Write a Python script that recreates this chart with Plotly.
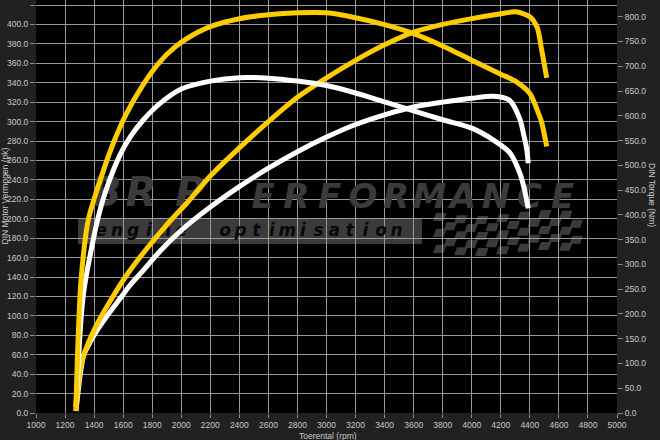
import math
import plotly.graph_objects as go

# ---------------- data ----------------
rpm_tuned = [1275, 1290, 1310, 1360, 1440, 1530, 1620, 1740, 1850, 1950, 2050, 2200, 2400, 2600,
             2800, 3000, 3200, 3400, 3600, 3800, 4000, 4200, 4300, 4400, 4450, 4480, 4516]
torque_tuned = [12, 150, 268, 390, 468, 543, 603, 664, 708, 737, 758, 780, 796, 804,
                808, 808, 798, 784, 766, 741, 712, 684, 670, 645, 612, 588, 538]
power_tuned = [2, 28, 50, 72, 97, 120, 141, 165, 185, 202, 218, 244, 273, 300,
               325, 345, 363, 379, 392, 400, 406, 411, 413, 408, 397, 375, 345]

rpm_stock = [1275, 1290, 1305, 1330, 1420, 1480, 1580, 1650, 1740, 1850, 2000, 2200, 2400, 2600,
             2800, 3000, 3200, 3400, 3600, 3800, 4000, 4150, 4260, 4330, 4360, 4378, 4389]
torque_stock = [12, 87, 170, 248, 385, 448, 522, 558, 592, 624, 654, 670, 677, 676,
                670, 661, 646, 628, 610, 592, 575, 551, 526, 485, 455, 430, 413]
power_stock = [2, 22, 40, 60, 85, 98, 118, 132, 147, 166, 188, 212, 233, 252,
               269, 284, 297, 307, 315, 320, 324, 326, 322, 303, 285, 272, 257]

x_ticks = list(range(1000, 5001, 200))
left_ticks = list(range(0, 421, 20))
right_ticks = list(range(0, 801, 50))

x_title = "Toerental (rpm)"
left_title = "DIN Motor Vermogen (pk)"
right_title = "DIN Torque (Nm)"
logo_big = "BRP"
logo_small = "ERFORMANCE"
logo_tag = ["engine", "optimisation"]

# ---------------- layout geometry ----------------
W, H = 660, 440
L, R, T, B = 36, 43, 0, 27
PW, PH = W - L - R, H - T - B
X0, X1 = 1000, 5000
YL_TOP = 420 * PH / (PH - 5)
YR_TOP = 800 * PH / (PH - 16.7)


def px2x(px):
    return X0 + (px - L) / PW * (X1 - X0)


def py2y(py):
    return (T + PH - py) / PH * YL_TOP


def xp(px):
    return (px - L) / PW


def yp(py):
    return (T + PH - py) / PH


YELLOW = "#FFCC00"
WHITE = "#FFFFFF"
LOGO = "#3b3b3b"
TICKC = "#c8c8c8"
GRID = "#9a9a9a"
FONT = "Liberation Sans, Arial, sans-serif"
FS = 8.5

fig = go.Figure()

# ---------------- watermark text (below the curves) ----------------
fig.add_trace(go.Scatter(
    x=[px2x(106), px2x(141), px2x(190)], y=[py2y(196)] * 3,
    text=list(logo_big), mode="text", hoverinfo="skip", showlegend=False,
    textfont=dict(family="DejaVu Sans", size=40, color=LOGO, weight="bold", style="italic"),
))
fig.add_trace(go.Scatter(
    x=[px2x(263 + 33.3 * i) for i in range(len(logo_small))],
    y=[py2y(199)] * len(logo_small),
    text=list(logo_small), mode="text", hoverinfo="skip", showlegend=False,
    textfont=dict(family="DejaVu Sans", size=34, color=LOGO, weight="bold", style="italic"),
))
tag_x, tag_t = [], []
for word, start, pitch in [(logo_tag[0], 101, 16.0), (logo_tag[1], 225, 15.6)]:
    for k, ch in enumerate(word):
        tag_x.append(px2x(start + pitch * k))
        tag_t.append(ch)
fig.add_trace(go.Scatter(
    x=tag_x, y=[py2y(232)] * len(tag_x), text=tag_t, mode="text",
    hoverinfo="skip", showlegend=False,
    textfont=dict(family="DejaVu Sans", size=17, color="#080808", weight="bold", style="italic"),
))

# ---------------- curves ----------------
common = dict(mode="lines", hoverinfo="skip", showlegend=False)
ln = dict(width=5, shape="spline", smoothing=0.8)
fig.add_trace(go.Scatter(x=rpm_stock, y=power_stock, yaxis="y",
                         line=dict(color=WHITE, **ln), **common))
fig.add_trace(go.Scatter(x=rpm_stock, y=torque_stock, yaxis="y2",
                         line=dict(color=WHITE, **ln), **common))
fig.add_trace(go.Scatter(x=rpm_tuned, y=power_tuned, yaxis="y",
                         line=dict(color=YELLOW, **ln), **common))
fig.add_trace(go.Scatter(x=rpm_tuned, y=torque_tuned, yaxis="y2",
                         line=dict(color=YELLOW, **ln), **common))

# ---------------- watermark shapes (band + checkered flag) ----------------
shapes = [dict(type="rect", xref="paper", yref="paper", x0=xp(78), x1=xp(422),
               y0=yp(244), y1=yp(219), fillcolor=LOGO, line=dict(width=0), layer="below")]
for i in range(14):
    for j in range(5):
        if (i + j) % 2:
            continue
        w = 10.5
        h = 8.0
        wave = 3.0 * math.sin(i * 0.45)
        x_l = 433 + i * w
        y_t = 213 + j * h + wave
        sk = 3.0
        path = (f"M {xp(x_l + sk)},{yp(y_t)} L {xp(x_l + w + sk)},{yp(y_t)} "
                f"L {xp(x_l + w)},{yp(y_t + h)} L {xp(x_l)},{yp(y_t + h)} Z")
        shapes.append(dict(type="path", xref="paper", yref="paper", path=path,
                           fillcolor=LOGO, line=dict(width=0), layer="below"))

axis_common = dict(
    ticks="outside", tickcolor="#8a8a8a", tickwidth=1,
    tickfont=dict(family=FONT, size=FS, color=TICKC),
    zeroline=False, fixedrange=True, automargin=False,
)

fig.update_layout(
    width=W, height=H,
    margin=dict(l=L, r=R, t=T, b=B, pad=0, autoexpand=False),
    paper_bgcolor="#212121", plot_bgcolor="#000000",
    font=dict(family=FONT, size=FS, color=TICKC),
    xaxis=dict(range=[X0, X1], tickvals=x_ticks, ticktext=[str(v) for v in x_ticks],
               showgrid=True, gridcolor=GRID, gridwidth=1, ticklen=4,
               showline=False, **axis_common),
    yaxis=dict(range=[0, YL_TOP], tickvals=left_ticks,
               ticktext=[f"{v:.1f}" for v in left_ticks], ticklen=5,
               showgrid=True, gridcolor=GRID, gridwidth=1, showline=False, **axis_common),
    yaxis2=dict(range=[0, YR_TOP], tickvals=right_ticks,
                ticktext=[f"{v:.1f}" for v in right_ticks], ticklen=5,
                overlaying="y", side="right", showgrid=False, showline=False, **axis_common),
    shapes=shapes,
    annotations=[
        dict(text=x_title, xref="paper", yref="paper", x=xp(328), y=yp(435.5),
             xanchor="center", yanchor="middle",
             showarrow=False, font=dict(family=FONT, size=FS, color=TICKC)),
        dict(text=left_title, xref="paper", yref="paper", x=xp(4.5), y=yp(196),
             xanchor="center", yanchor="middle",
             showarrow=False, textangle=-90, font=dict(family=FONT, size=FS, color=TICKC)),
        dict(text=right_title, xref="paper", yref="paper", x=xp(652), y=yp(195),
             xanchor="center", yanchor="middle",
             showarrow=False, textangle=90, font=dict(family=FONT, size=FS, color=TICKC)),
    ],
)

fig.write_html(
    "out.html",
    config={"displayModeBar": False},
    post_script="document.body.style.margin='0px';document.body.style.background='#212121';",
)
